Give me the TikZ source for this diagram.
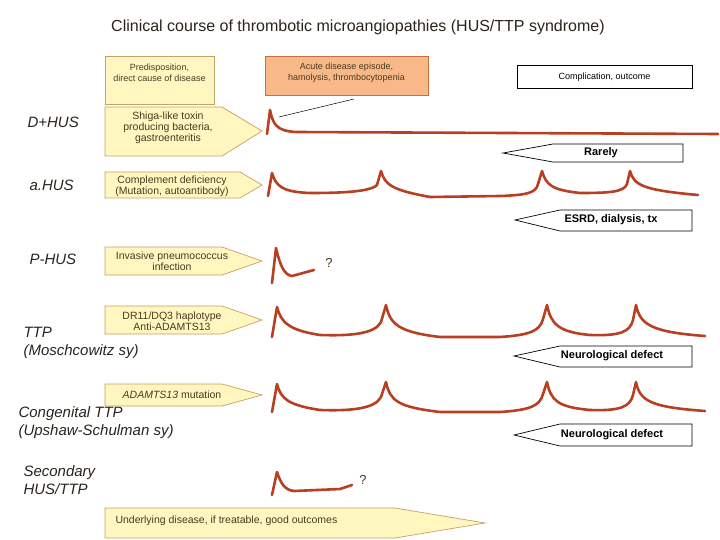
\documentclass[tikz,border=0pt]{standalone}
\usepackage{fontspec}
\setmainfont{Liberation Sans}
\begin{document}
\begin{tikzpicture}[x=1pt,y=-1pt,
  ybox/.style={draw=boxbr,fill=ylw,line width=0.7pt},
  wbox/.style={draw=black,fill=white,line width=0.7pt},
  rowlab/.style={anchor=west,font=\fontsize{15}{18}\selectfont\itshape,text=labc,align=left},
  boxtxt/.style={font=\fontsize{10.5}{9}\selectfont,text=txtc,align=center},
  hdrtxt/.style={font=\fontsize{9}{11}\selectfont,text=txtc,align=center},
  outtxt/.style={font=\fontsize{11}{12}\selectfont\bfseries,text=black},
  curve/.style={draw=crv,line width=2.6pt,line join=round,line cap=round}]
\definecolor{ylw}{HTML}{FFF6C0}
\definecolor{boxbr}{HTML}{C8A060}
\definecolor{orn}{HTML}{F8B888}
\definecolor{ornbr}{HTML}{C87040}
\definecolor{crv}{HTML}{B84022}
\definecolor{labc}{HTML}{2A241C}
\definecolor{txtc}{HTML}{4A3A20}
\useasboundingbox (0,0) rectangle (720,540);
\fill[white] (0,0) rectangle (720,540);
\node[font=\fontsize{16}{18}\selectfont,text=labc] (title) at (358,27) {Clinical course of thrombotic microangiopathies (HUS/TTP syndrome)};
% header boxes
\draw[ybox] (105,56) rectangle (214,104);
\node[hdrtxt] (h1) at (159.5,73) {Predisposition,\\direct cause of disease};
\draw[draw=ornbr,fill=orn,line width=0.7pt] (265,56) rectangle (428,95);
\node[hdrtxt] (h2) at (346.5,73) {Acute disease episode,\\hamolysis, thrombocytopenia};
\draw[wbox] (517,65) rectangle (692,88);
\node[hdrtxt,text=black] (h3) at (604.5,77) {Complication, outcome};
\coordinate (l1) at (354,99);
\coordinate (l2) at (279,117);
\draw[black,line width=0.5pt] (l1) -- (l2);
% row labels
\node[rowlab] (r1) at (24,122) {D+HUS};
\node[rowlab] (r2) at (26,185) {a.HUS};
\node[rowlab] (r3) at (26,259) {P-HUS};
\node[rowlab] (r4) at (20,343) {TTP\\(Moschcowitz sy)};
\node[rowlab] (r5) at (15,423) {Congenital TTP\\(Upshaw-Schulman sy)};
\node[rowlab] (r6) at (20,480) {Secondary\\HUS/TTP};
% right arrow boxes
\draw[ybox] (105,107) -- (222,107) -- (262,131) -- (222,156) -- (105,156) -- cycle;
\node[boxtxt] (b1) at (168,128) {Shiga-like toxin\\producing bacteria,\\gastroenteritis};
\draw[ybox] (105,172) -- (240,172) -- (262,185) -- (240,198) -- (105,198) -- cycle;
\node[boxtxt] (b2) at (172,186) {Complement deficiency\\(Mutation, autoantibody)};
\draw[ybox] (105,247) -- (222,247) -- (262,261) -- (222,275) -- (105,275) -- cycle;
\node[boxtxt] (b3) at (172,261) {Invasive pneumococcus\\infection};
\draw[ybox] (105,306) -- (222,306) -- (262,320) -- (222,334) -- (105,334) -- cycle;
\node[boxtxt] (b4) at (172,321) {DR11/DQ3 haplotype\\Anti-ADAMTS13};
\draw[ybox] (105,384) -- (222,384) -- (262,395) -- (222,406) -- (105,406) -- cycle;
\node[boxtxt] (b5) at (172,395) {\textit{ADAMTS13} mutation};
\draw[ybox] (105,508) -- (395,508) -- (485,523) -- (395,538) -- (105,538) -- cycle;
\node[boxtxt,anchor=west] (b6) at (112,521) {Underlying disease, if treatable, good outcomes};
% left arrow boxes
\draw[wbox] (683,144) -- (553,144) -- (503,153) -- (553,162) -- (683,162) -- cycle;
\node[outtxt] (o1) at (601,153) {Rarely};
\draw[wbox] (692,210) -- (560,210) -- (515,220) -- (560,231) -- (692,231) -- cycle;
\node[outtxt] (o2) at (611,220) {ESRD, dialysis, tx};
\draw[wbox] (692,346) -- (560,346) -- (514,356) -- (560,367) -- (692,367) -- cycle;
\node[outtxt] (o3) at (612,356) {Neurological defect};
\draw[wbox] (692,424) -- (560,424) -- (514,435) -- (560,446) -- (692,446) -- cycle;
\node[outtxt] (o4) at (612,435) {Neurological defect};
% curves
\draw[curve] (267,134) -- (270,110) .. controls (273,124) and (276,131) .. (296,132) -- (718,134);
\draw[curve] (268,196) -- (272,173) .. controls (276,186) and (282,192) .. (310,193)
  .. controls (340,193) and (370,192) .. (377,185) -- (381,171) .. controls (385,185) and (392,190) .. (430,197)
  -- (500,196) .. controls (530,195) and (536,192) .. (538,184) -- (542,171)
  .. controls (546,185) and (552,190) .. (580,193) .. controls (610,193) and (624,192) .. (627,184)
  -- (630,171) .. controls (634,185) and (642,190) .. (698,195);
\draw[curve] (272,283) -- (276,248) .. controls (280,265) and (284,275) .. (292,276) -- (314,270);
\node[font=\fontsize{13}{13}\selectfont,text=txtc] (q1) at (329,263) {?};
\foreach \b/\p/\nm in {337/307/t1,412/384/t2}{
\draw[curve] (272,\b) -- (277,\p) .. controls (281,\p+15) and (288,\b-7) .. (320,\b-2)
  .. controls (350,\b-1) and (375,\b-3) .. (381,\b-15) -- (386,\p-2) .. controls (390,\p+17) and (398,\b-5) .. (440,\b)
  -- (500,\b) .. controls (530,\b-2) and (540,\b-6) .. (543,\b-18) -- (547,\p-2)
  .. controls (551,\p+17) and (558,\b-5) .. (590,\b-2) .. controls (620,\b-1) and (630,\b-5) .. (633,\b-17)
  -- (636,\p-2) .. controls (640,\p+17) and (650,\b-5) .. (705,\b-1);
}
\draw[curve] (272,495) -- (277,472) .. controls (281,484) and (285,490) .. (294,491) -- (340,489) -- (352,485);
\node[font=\fontsize{13}{13}\selectfont,text=txtc] (q2) at (363,480) {?};
\end{tikzpicture}
\end{document}
